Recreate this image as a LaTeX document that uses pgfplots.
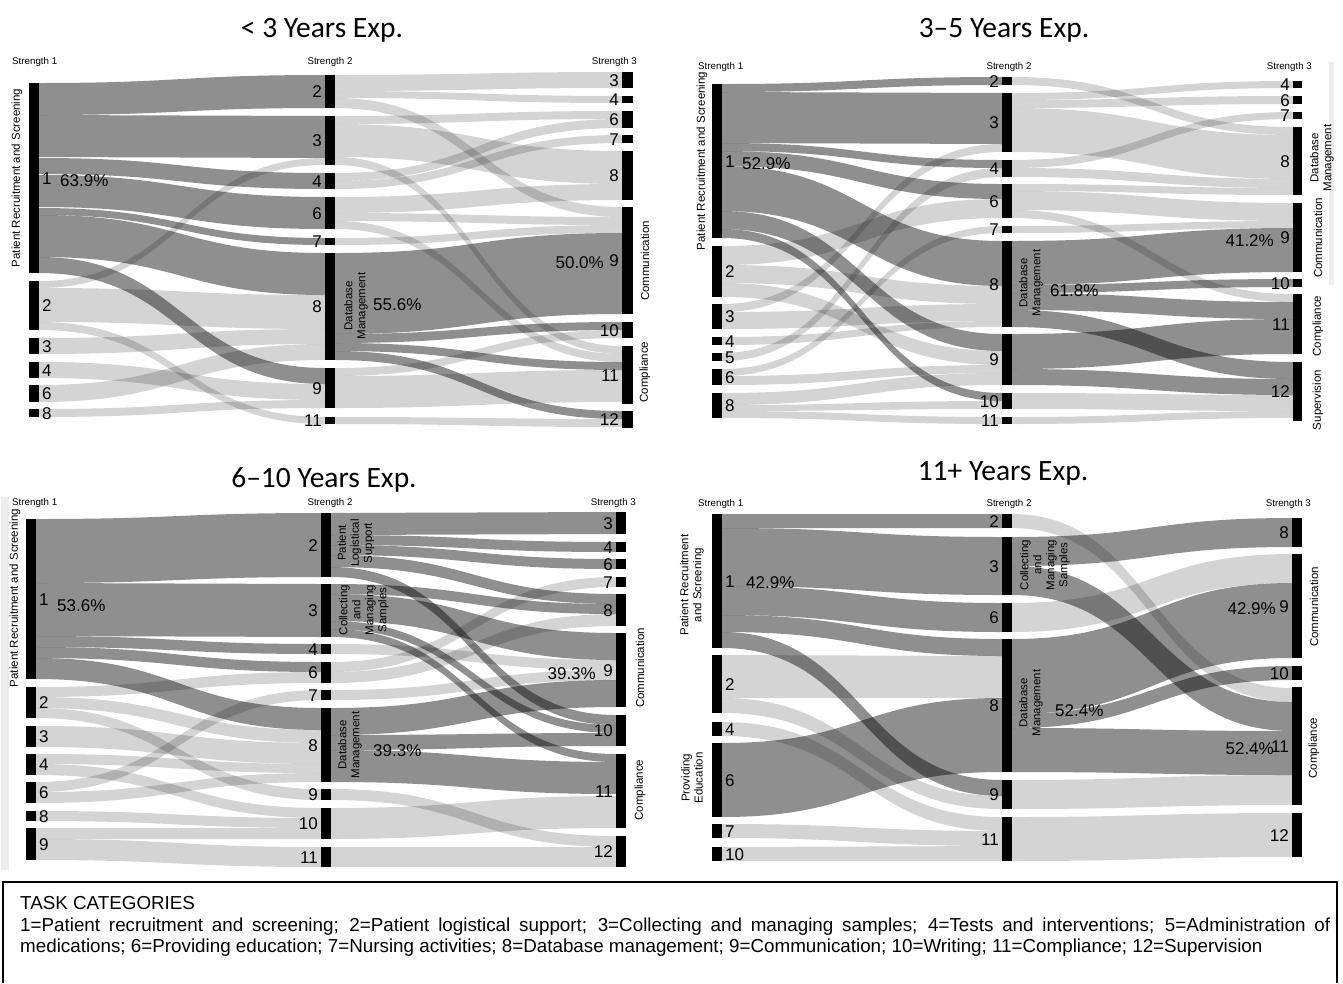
\documentclass[border=0pt]{standalone}
\usepackage{pgfplots}
\usepackage{pgfplotstable}
\pgfplotsset{compat=1.18}
\usepackage{fontspec}
\setmainfont{Liberation Sans}
\newfontfamily\ttlfont{Carlito}

% ---------- Panel A: < 3 years ----------
\pgfplotstableread{
xa xb ya yb lab side
29 39 83 273 1 0
29 39 281 330 2 0
29 39 338 354 3 0
29 39 362 378 4 0
29 39 385 402 6 0
29 39 409 417 8 0
325 335 75 108 2 1
325 335 116 165 3 1
325 335 173 189 4 1
325 335 197 229 6 1
325 335 238 245 7 1
325 335 253 360 8 1
325 335 368 408 9 1
325 335 417 424 11 1
622 633 72 88 3 1
622 633 96 103 4 1
622 633 111 128 6 1
622 633 135 143 7 1
622 633 151 200 8 1
622 633 207 314 9 1
622 633 322 338 10 1
622 633 346 404 11 1
622 633 411 428 12 1
}\nodesA
\pgfplotstableread{
xa xb ta ba tb bb dark
39 325 83 115 75 108 1
39 325 115 157 116 158 1
39 325 158 174 173 189 1
39 325 175 207 197 229 1
39 325 208 215 238 245 1
39 325 215 257 253 295 1
39 325 257 273 368 384 1
39 325 281 288 158 165 0
39 325 288 322 295 329 0
39 325 322 330 417 424 0
39 325 338 354 329 344 0
39 325 362 378 384 400 0
39 325 385 402 344 360 0
39 325 409 417 400 408 0
335 622 75 91 72 88 0
335 622 91 98 96 103 0
335 622 98 108 207 217 0
335 622 116 124 111 119 0
335 622 124 157 151 184 0
335 622 157 165 346 354 0
335 622 173 181 119 128 0
335 622 181 189 135 143 0
335 622 197 213 184 200 0
335 622 213 221 217 225 0
335 622 221 229 354 362 0
335 622 238 245 225 233 0
335 622 253 334 233 314 1
335 622 334 343 322 330 1
335 622 343 351 362 370 1
335 622 351 360 411 419 1
335 622 368 376 330 338 0
335 622 376 408 370 402 0
335 622 417 424 419 427 0
}\flowsA

% ---------- Panel B: 3-5 years ----------
\pgfplotstableread{
xa xb ya yb lab side
712 722 84 238 1 0
712 722 246 297 2 0
712 722 304 329 3 0
712 722 337 345 4 0
712 722 353 361 5 0
712 722 369 385 6 0
712 722 393 418 8 0
1002 1012 77 85 2 1
1002 1012 93 152 3 1
1002 1012 160 177 4 1
1002 1012 184 218 6 1
1002 1012 226 233 7 1
1002 1012 241 327 8 1
1002 1012 334 385 9 1
1002 1012 393 409 10 1
1002 1012 417 424 11 1
1293 1302 81 88 4 1
1293 1302 96 104 6 1
1293 1302 112 119 7 1
1293 1302 127 195 8 1
1293 1302 203 272 9 1
1293 1302 279 287 10 1
1293 1302 294 354 11 1
1293 1302 362 421 12 1
}\nodesB
\pgfplotstableread{
xa xb ta ba tb bb dark
722 1002 84 92 77 85 1
722 1002 92 143 93 144 1
722 1002 143 151 160 168 1
722 1002 151 166 184 199 1
722 1002 166 211 241 286 1
722 1002 211 229 334 351 1
722 1002 229 238 393 401 1
722 1002 246 265 199 218 0
722 1002 265 283 286 304 0
722 1002 283 297 351 365 0
722 1002 304 312 144 152 0
722 1002 312 329 304 321 0
722 1002 337 345 321 327 0
722 1002 353 361 168 177 0
722 1002 369 376 226 233 0
722 1002 376 385 365 373 0
722 1002 393 405 373 385 0
722 1002 405 411 401 409 0
722 1002 411 418 417 424 0
1012 1293 77 85 127 135 0
1012 1293 93 100 81 88 0
1012 1293 100 108 96 104 0
1012 1293 108 152 135 179 0
1012 1293 160 168 112 119 0
1012 1293 168 177 179 188 0
1012 1293 184 191 188 195 0
1012 1293 191 210 203 221 0
1012 1293 210 218 294 302 0
1012 1293 226 233 221 228 0
1012 1293 241 285 228 272 1
1012 1293 285 293 279 287 1
1012 1293 293 310 302 319 1
1012 1293 310 327 362 379 1
1012 1293 334 369 319 354 1
1012 1293 369 385 379 395 1
1012 1293 393 409 395 411 0
1012 1293 417 424 411 418 0
}\flowsB

% ---------- Panel C: 6-10 years ----------
\pgfplotstableread{
xa xb ya yb lab side
26 36 519 679 1 0
26 36 687 718 2 0
26 36 726 747 3 0
26 36 754 775 4 0
26 36 782 803 6 0
26 36 811 821 8 0
26 36 828 860 9 0
321 331 513 577 2 1
321 331 584 637 3 1
321 331 644 654 4 1
321 331 662 683 6 1
321 331 690 700 7 1
321 331 708 782 8 1
321 331 789 800 9 1
321 331 808 839 10 1
321 331 847 867 11 1
616 626 512 534 3 1
616 626 542 552 4 1
616 626 559 569 6 1
616 626 577 587 7 1
616 626 594 626 8 1
616 626 633 707 9 1
616 626 715 746 10 1
616 626 754 828 11 1
616 626 836 867 12 1
}\nodesC
\pgfplotstableread{
xa xb ta ba tb bb dark
36 321 519 583 513 577 1
36 321 583 636 584 637 1
36 321 636 647 644 654 1
36 321 647 658 662 672 1
36 321 658 679 708 730 1
36 321 687 697 672 683 0
36 321 697 708 730 743 0
36 321 708 718 789 800 0
36 321 726 747 743 764 0
36 321 754 764 764 773 0
36 321 764 775 808 818 0
36 321 782 792 690 700 0
36 321 792 803 773 782 0
36 321 811 821 818 828 0
36 321 828 839 828 839 0
36 321 839 860 847 867 0
331 616 513 535 512 534 1
331 616 535 545 542 552 1
331 616 545 555 559 569 1
331 616 555 567 594 604 1
331 616 567 577 715 725 1
331 616 584 594 604 614 1
331 616 594 621 633 660 1
331 616 621 629 725 733 1
331 616 629 637 754 762 1
331 616 644 654 660 670 0
331 616 662 672 577 587 0
331 616 672 683 614 626 0
331 616 690 700 670 680 0
331 616 708 735 680 707 1
331 616 735 750 733 746 1
331 616 750 782 762 794 1
331 616 789 800 836 847 0
331 616 808 839 796 828 0
331 616 847 867 847 867 0
}\flowsC

% ---------- Panel D: 11+ years ----------
\pgfplotstableread{
xa xb ya yb lab side
712 722 514 648 1 0
712 722 655 713 2 0
712 722 722 736 4 0
712 722 743 817 6 0
712 722 824 838 7 0
712 722 847 861 10 0
1002 1012 514 528 2 1
1002 1012 537 595 3 1
1002 1012 603 632 6 1
1002 1012 639 772 8 1
1002 1012 780 809 9 1
1002 1012 817 861 11 1
1292 1302 518 547 8 1
1292 1302 554 658 9 1
1292 1302 666 680 10 1
1292 1302 687 805 11 1
1292 1302 813 857 12 1
}\nodesD
\pgfplotstableread{
xa xb ta ba tb bb dark
722 1002 514 528 514 528 1
722 1002 528 586 537 595 1
722 1002 586 615 603 632 1
722 1002 615 632 639 656 1
722 1002 632 648 780 796 1
722 1002 655 698 656 698 0
722 1002 698 713 796 809 0
722 1002 722 736 817 831 0
722 1002 743 817 698 772 1
722 1002 824 838 831 846 0
722 1002 847 861 846 861 0
1012 1292 514 528 688 702 0
1012 1292 537 566 518 547 1
1012 1292 566 595 702 731 1
1012 1292 603 632 554 583 0
1012 1292 639 714 583 658 1
1012 1292 714 728 666 680 1
1012 1292 728 772 731 775 1
1012 1292 780 809 775 805 0
1012 1292 817 861 813 857 0
}\flowsD

\newcommand\drawflows[1]{%
  \pgfplotstablegetrowsof{#1}%
  \pgfmathtruncatemacro\lastrow{\pgfplotsretval-1}%
  \foreach \r in {0,...,\lastrow}{%
    \pgfplotstablegetelem{\r}{xa}\of{#1}\let\fXa\pgfplotsretval
    \pgfplotstablegetelem{\r}{xb}\of{#1}\let\fXb\pgfplotsretval
    \pgfplotstablegetelem{\r}{ta}\of{#1}\let\fTa\pgfplotsretval
    \pgfplotstablegetelem{\r}{ba}\of{#1}\let\fBa\pgfplotsretval
    \pgfplotstablegetelem{\r}{tb}\of{#1}\let\fTb\pgfplotsretval
    \pgfplotstablegetelem{\r}{bb}\of{#1}\let\fBb\pgfplotsretval
    \pgfplotstablegetelem{\r}{dark}\of{#1}\let\fDk\pgfplotsretval
    \pgfmathsetmacro\fXm{(\fXa+\fXb)/2}%
    \ifnum\fDk=1 \def\fOp{0.44}\else\def\fOp{0.17}\fi
    \fill[black,fill opacity=\fOp] (axis cs:\fXa,\fTa)
      .. controls (axis cs:\fXm,\fTa) and (axis cs:\fXm,\fTb) .. (axis cs:\fXb,\fTb)
      -- (axis cs:\fXb,\fBb)
      .. controls (axis cs:\fXm,\fBb) and (axis cs:\fXm,\fBa) .. (axis cs:\fXa,\fBa) -- cycle;
  }}

\newcommand\drawnodes[1]{%
  \pgfplotstablegetrowsof{#1}%
  \pgfmathtruncatemacro\lastrow{\pgfplotsretval-1}%
  \foreach \r in {0,...,\lastrow}{%
    \pgfplotstablegetelem{\r}{xa}\of{#1}\let\nXa\pgfplotsretval
    \pgfplotstablegetelem{\r}{xb}\of{#1}\let\nXb\pgfplotsretval
    \pgfplotstablegetelem{\r}{ya}\of{#1}\let\nYa\pgfplotsretval
    \pgfplotstablegetelem{\r}{yb}\of{#1}\let\nYb\pgfplotsretval
    \pgfplotstablegetelem{\r}{lab}\of{#1}\let\nLab\pgfplotsretval
    \pgfplotstablegetelem{\r}{side}\of{#1}\let\nSd\pgfplotsretval
    \fill[black] (axis cs:\nXa,\nYa) rectangle (axis cs:\nXb,\nYb);
    \pgfmathsetmacro\nYc{(\nYa+\nYb)/2+6}%
    \ifnum\nSd=0
      \pgfmathsetmacro\nXl{\nXb+3}%
      \node[lbl,anchor=base west] at (axis cs:\nXl,\nYc) {\nLab};
    \else
      \pgfmathsetmacro\nXl{\nXa-3}%
      \node[lbl,anchor=base east] at (axis cs:\nXl,\nYc) {\nLab};
    \fi
  }}

\begin{document}
\begin{tikzpicture}[
  lbl/.style={font=\fontsize{17}{17}\selectfont, inner sep=0pt},
  hdr/.style={font=\fontsize{9.75}{10}\selectfont, inner sep=0pt},
  rot/.style={font=\fontsize{11.5}{13}\selectfont, inner sep=0pt, rotate=90, align=center, anchor=center},
  ttl/.style={font=\ttlfont\fontsize{29.5}{30}\selectfont, inner sep=0pt, anchor=base},
  leg/.style={font=\fontsize{18.8}{19}\selectfont, inner sep=0pt, anchor=base west}]
\begin{axis}[scale only axis, width=1343pt, height=983pt,
  xmin=0, xmax=1343, ymin=0, ymax=983, y dir=reverse,
  hide axis, clip=false]
\path (axis cs:0,0) rectangle (axis cs:1343,983);
% faint scan strips of the original
\fill[black!7] (axis cs:1,497) rectangle (axis cs:9,870);
\fill[black!7] (axis cs:1329,62) rectangle (axis cs:1334,285);
\pgfplotsextra{%
  \drawflows{\flowsA}\drawflows{\flowsB}\drawflows{\flowsC}\drawflows{\flowsD}%
  \drawnodes{\nodesA}\drawnodes{\nodesB}\drawnodes{\nodesC}\drawnodes{\nodesD}%
}
% titles
\node[ttl] at (axis cs:322,37) {< 3 Years Exp.};
\node[ttl] at (axis cs:1004,37) {3–5 Years Exp.};
\node[ttl] at (axis cs:324,487) {6–10 Years Exp.};
\node[ttl] at (axis cs:1003,480) {11+ Years Exp.};
% strength headers
\node[hdr,anchor=base west] at (axis cs:12,64) {Strength 1};
\node[hdr,anchor=base] at (axis cs:330,64) {Strength 2};
\node[hdr,anchor=base east] at (axis cs:637,64) {Strength 3};
\node[hdr,anchor=base west] at (axis cs:698,69) {Strength 1};
\node[hdr,anchor=base] at (axis cs:1009,69) {Strength 2};
\node[hdr,anchor=base east] at (axis cs:1312,69) {Strength 3};
\node[hdr,anchor=base west] at (axis cs:12,505) {Strength 1};
\node[hdr,anchor=base] at (axis cs:330,505) {Strength 2};
\node[hdr,anchor=base east] at (axis cs:636,505) {Strength 3};
\node[hdr,anchor=base west] at (axis cs:698,506) {Strength 1};
\node[hdr,anchor=base] at (axis cs:1009,506) {Strength 2};
\node[hdr,anchor=base east] at (axis cs:1311,506) {Strength 3};
% percentages
\node[lbl,anchor=base west] at (axis cs:60,186) {63.9\%};
\node[lbl,anchor=base west] at (axis cs:373,310) {55.6\%};
\node[lbl,anchor=base east] at (axis cs:604,268) {50.0\%};
\node[lbl,anchor=base west] at (axis cs:742,169) {52.9\%};
\node[lbl,anchor=base west] at (axis cs:1050,296) {61.8\%};
\node[lbl,anchor=base east] at (axis cs:1274,246) {41.2\%};
\node[lbl,anchor=base west] at (axis cs:57,611) {53.6\%};
\node[lbl,anchor=base west] at (axis cs:373,756) {39.3\%};
\node[lbl,anchor=base east] at (axis cs:596,679) {39.3\%};
\node[lbl,anchor=base west] at (axis cs:746,588) {42.9\%};
\node[lbl,anchor=base west] at (axis cs:1055,716) {52.4\%};
\node[lbl,anchor=base east] at (axis cs:1276,614) {42.9\%};
\node[lbl,anchor=base east] at (axis cs:1274,754) {52.4\%};
% rotated category names
\node[rot] at (axis cs:17,178) {Patient Recruitment and Screening};
\node[rot] at (axis cs:356,306) {Database\\Management};
\node[rot] at (axis cs:645,261) {Communication};
\node[rot] at (axis cs:645,372) {Compliance};
\node[rot] at (axis cs:702,161) {Patient Recruitment and Screening};
\node[rot] at (axis cs:1031,283) {Database\\Management};
\node[rot] at (axis cs:1322,158) {Database\\Management};
\node[rot] at (axis cs:1318,238) {Communication};
\node[rot] at (axis cs:1318,326) {Compliance};
\node[rot] at (axis cs:1318,400) {Supervision};
\node[rot] at (axis cs:15,598) {Patient Recruitment and Screening};
\node[rot] at (axis cs:356,543) {Patient\\Logistical\\Support};
\node[rot] at (axis cs:364,610) {Collecting\\and\\Managing\\Samples};
\node[rot] at (axis cs:350,745) {Database\\Management};
\node[rot] at (axis cs:640,668) {Communication};
\node[rot] at (axis cs:640,790) {Compliance};
\node[rot] at (axis cs:692,585) {Patient Recruitment\\and Screening};
\node[rot] at (axis cs:692,778) {Providing\\Education};
\node[rot] at (axis cs:1045,565) {Collecting\\and\\Managing\\Samples};
\node[rot] at (axis cs:1031,703) {Database\\Management};
\node[rot] at (axis cs:1314,607) {Communication};
\node[rot] at (axis cs:1314,748) {Compliance};
% legend box
\draw[line width=1.2pt] (axis cs:3,983) -- (axis cs:3,882) -- (axis cs:1337,882) -- (axis cs:1337,983);
\node[leg] at (axis cs:20,909) {TASK CATEGORIES};
\node[leg] at (axis cs:20,931) {\makebox[1310pt][s]{1=Patient recruitment and screening; 2=Patient logistical support; 3=Collecting and managing samples; 4=Tests and interventions; 5=Administration of}};
\node[leg] at (axis cs:20,952) {medications; 6=Providing education; 7=Nursing activities; 8=Database management; 9=Communication; 10=Writing; 11=Compliance; 12=Supervision};
\end{axis}
\end{tikzpicture}
\end{document}
